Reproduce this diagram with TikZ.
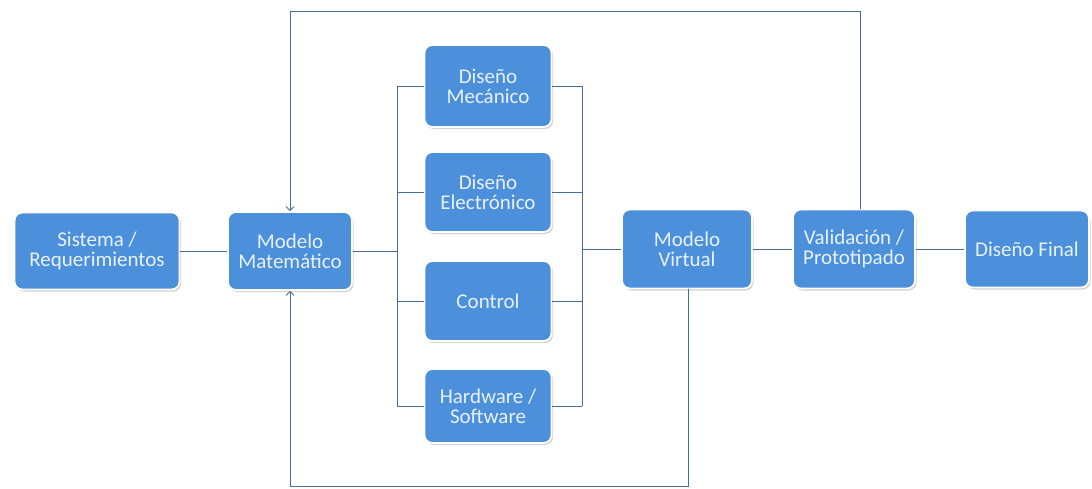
\documentclass[tikz,border=0pt]{standalone}
\usepackage{fontspec}
\setmainfont{Carlito}
\usetikzlibrary{arrows.meta,shadows}
\definecolor{boxfill}{RGB}{76,143,218}
\definecolor{boxtext}{RGB}{232,242,255}
\definecolor{linecol}{RGB}{72,108,158}
\tikzset{
  blk/.style={rectangle, rounded corners=8pt, fill=boxfill, draw=white, line width=1.8pt,
    text=boxtext, align=center, inner sep=0pt, font=\fontsize{21}{20}\selectfont,
    drop shadow={opacity=0.35, shadow xshift=1.5pt, shadow yshift=-2pt}},
  conn/.style={draw=linecol, line width=0.8pt},
  arr/.style={conn, -{Straight Barb[length=4pt,width=8pt]}}
}
\begin{document}
\begin{tikzpicture}[x=1pt,y=-1pt]
\fill[white] (0,0) rectangle (1092,489);
\useasboundingbox (0,0) rectangle (1092,489);
% main row
\node[blk, minimum width=165pt, minimum height=77pt] (sis) at (97,251) {Sistema /\\Requerimientos};
\node[blk, minimum width=124pt, minimum height=78pt] (mat) at (290,251) {Modelo\\Matemático};
\node[blk, minimum width=130pt, minimum height=79pt] (mv) at (687,249) {Modelo\\Virtual};
\node[blk, minimum width=122pt, minimum height=79pt] (val) at (854,249) {Validación /\\Prototipado};
\node[blk, minimum width=124pt, minimum height=77pt] (df) at (1027,249) {Diseño Final};
% column
\node[blk, minimum width=127pt, minimum height=82pt] (mec) at (488,86) {Diseño\\Mecánico};
\node[blk, minimum width=127pt, minimum height=80pt] (ele) at (488,192) {Diseño\\Electrónico};
\node[blk, minimum width=127pt, minimum height=80pt] (ctl) at (488,301) {Control};
\node[blk, minimum width=127pt, minimum height=74pt] (hw) at (488,406) {Hardware /\\Software};
% bracket coordinates
\coordinate (lt) at (397,86);
\coordinate (lb) at (397,406);
\coordinate (lm) at (397,251);
\coordinate (rt) at (582,86);
\coordinate (rb) at (582,406);
\coordinate (rm) at (582,249);
% connectors
\draw[conn] (sis.east) -- (sis.east -| mat.west);
\draw[conn] (mat.east) -- (lm);
\draw[conn] (lt) -- (lb);
\draw[conn] (rt) -- (rb);
\draw[conn] (lt) -- (mec.west);
\draw[conn] (lt |- ele.west) -- (ele.west);
\draw[conn] (lt |- ctl.west) -- (ctl.west);
\draw[conn] (lb) -- (hw.west);
\draw[conn] (mec.east) -- (rt);
\draw[conn] (ele.east) -- (rt |- ele.east);
\draw[conn] (ctl.east) -- (rt |- ctl.east);
\draw[conn] (hw.east) -- (rb);
\draw[conn] (rm) -- (mv.west);
\draw[conn] (mv.east) -- (val.west);
\draw[conn] (val.east) -- (df.west);
% feedback loops
\coordinate (topc) at (860,11);
\coordinate (botc) at (688,486);
\draw[arr] (val.north -| topc) -- (topc) -| (mat.north);
\draw[arr] (mv.south -| botc) -- (botc) -| (mat.south);
\end{tikzpicture}
\end{document}
